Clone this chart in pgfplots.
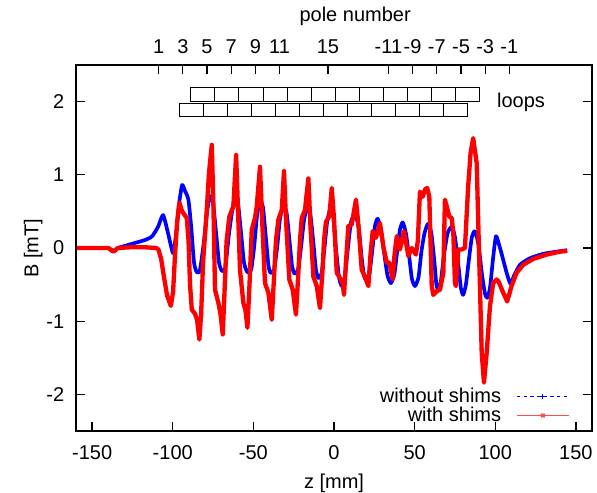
\documentclass[border=0pt]{standalone}
\usepackage{fontspec}
\setmainfont{Liberation Sans}
\usepackage{pgfplots}
\usepackage{pgfplotstable}
\pgfplotsset{compat=1.18}

% field without shims
\pgfplotstableread{
z B
-159.5 0
-145 0
-140 0
-136.8 -0.04
-134 0
-126.4 0.05
-117.1 0.11
-112.8 0.16
-109.1 0.29
-106 0.45
-102.9 0.2
-99.8 -0.07
-97.9 0.2
-96.1 0.6
-94.2 0.86
-92.4 0.78
-90.3 0.66
-88.6 0.3
-86.8 -0.2
-85.1 -0.33
-83.1 -0.3
-80.6 0.1
-78.7 0.5
-76.9 0.71
-75 0.62
-73.1 0.2
-71.3 -0.2
-69.6 -0.31
-67.5 -0.28
-65.1 0.2
-63.2 0.5
-61.4 0.68
-59.5 0.6
-57.6 0.2
-55.8 -0.2
-53.7 -0.33
-51.4 -0.3
-49.6 0.0
-47.7 0.45
-45.9 0.64
-44 0.55
-42.1 0.1
-40.6 -0.25
-39.4 -0.34
-37.2 -0.3
-35.3 0.0
-33.5 0.4
-31.4 0.58
-29.4 0.48
-27.6 0.1
-26 -0.25
-24.5 -0.35
-22.3 -0.3
-20.5 0.0
-18.6 0.38
-16.5 0.55
-14.6 0.45
-12.7 0.05
-11.2 -0.3
-9.7 -0.41
-7.7 -0.35
-5.9 0.0
-4.3 0.35
-2.5 0.52
-0.6 0.45
1.2 0.0
3.1 -0.4
4.8 -0.52
6.5 -0.45
8.4 -0.05
10.5 0.35
13 0.45
15.2 0.3
17 -0.1
18.6 -0.38
20.3 -0.45
22 -0.35
23.9 0.0
25.4 0.3
27.1 0.40
29.1 0.25
31.3 -0.1
33.2 -0.38
35.3 -0.48
37.5 -0.35
39.4 0.0
40.9 0.25
42.6 0.35
44.6 0.2
46.8 -0.15
48.3 -0.42
50.2 -0.52
52.4 -0.4
54.2 -0.05
56.1 0.2
58.3 0.33
60.4 0.2
62.3 -0.2
63.5 -0.5
64.7 -0.57
66.3 -0.45
68.2 -0.1
70.4 0.2
73 0.29
75 0.15
77.2 -0.25
78.7 -0.55
80.1 -0.64
81.8 -0.5
83.7 -0.15
85.5 0.15
87.4 0.23
89.6 0.05
91.7 -0.35
93.6 -0.62
95 -0.68
96.7 -0.55
98.6 -0.15
100.4 0.16
102.3 0.05
104.8 -0.15
107.2 -0.35
109.5 -0.49
111.6 -0.38
115.3 -0.23
121.5 -0.14
129.7 -0.08
138 -0.05
144.6 -0.03
}\noshims

% field with shims
\pgfplotstableread{
z B
-159.5 0
-145 0
-140 0
-136.8 -0.05
-134 0
-126.4 0.01
-117.1 0.01
-110.3 0.0
-108.9 -0.02
-107.2 -0.15
-105.4 -0.4
-103.5 -0.65
-101.2 -0.79
-99.8 -0.6
-98.6 -0.1
-97.3 0.35
-95.9 0.62
-94.2 0.5
-91.3 0.41
-90.2 0.1
-89.3 -0.5
-88.2 -0.84
-86.2 -0.9
-84.9 -0.98
-83.5 -1.25
-82.4 -0.9
-81.2 -0.2
-78.9 0.52
-77.5 1.03
-75.8 1.41
-74.8 0.6
-73.8 -0.57
-71.7 -0.75
-70.4 -0.9
-69 -1.18
-67.9 -0.6
-66.6 0.1
-64.9 0.43
-62.4 0.57
-60.7 1.27
-59.5 0.5
-58.3 -0.3
-56.2 -0.75
-54.9 -0.85
-53.7 -1.09
-52.4 -0.5
-51 0.25
-49 0.41
-47.9 0.57
-45.9 1.11
-44.6 0.4
-42.8 -0.48
-40.7 -0.61
-38.6 -0.98
-37.2 -0.4
-36 0.1
-34.5 0.39
-32.4 0.52
-31 1.05
-29.8 0.4
-27.7 -0.43
-25.6 -0.57
-23.6 -0.91
-22 -0.3
-21.1 0.1
-20 0.41
-18 0.52
-15.9 0.95
-14.6 0.3
-12.8 -0.39
-10.7 -0.52
-8.7 -0.82
-7.1 -0.3
-6.2 0.1
-5 0.36
-2.9 0.43
-1.4 0.82
0 0.4
1.7 -0.34
3.7 -0.41
5.4 -0.48
6.2 -0.64
7.4 -0.2
8.9 0.30
11 0.32
13.6 0.66
15.2 0.3
17.2 -0.30
19.2 -0.39
21.3 -0.52
22.6 -0.1
24 0.23
26 0.14
28.5 0.34
30.6 0.02
32.7 -0.2
34.3 -0.2
36.4 -0.43
37.5 -0.1
38.9 0.16
40.9 -0.02
43.4 0.23
46.1 -0.11
48.2 0.0
50.8 -0.09
52 0.1
53.3 0.77
55 0.70
56.4 0.80
57.8 0.82
59.1 0.7
60.6 -0.52
61.6 -0.64
63.7 -0.59
65.7 -0.57
67.8 -0.34
68.8 0.66
69.9 0.57
71.5 0.43
73 0.41
74 0.2
75 -0.48
75.6 -0.52
77.1 -0.02
79.2 -0.02
81.2 0.0
83.2 0.84
84.7 1.30
86.3 1.50
88.5 1.16
89.4 0.39
90.5 -0.52
91.6 -1.43
93 -1.84
94.7 -1.43
96.7 -0.80
98.7 -0.48
100.8 -0.43
101.9 -0.45
104.9 -0.61
107.4 -0.73
110.1 -0.52
113.2 -0.34
117.3 -0.23
123.5 -0.15
131.8 -0.09
140.1 -0.05
144.6 -0.04
}\withshims

\begin{document}
\begin{tikzpicture}[font=\fontsize{12}{14}\selectfont]
\path[use as bounding box] (-45.6pt,-36.6pt) rectangle (312.6pt,258.6pt);

\begin{axis}[
  width=309.6pt, height=219.6pt, scale only axis,
  xmin=-160, xmax=160, ymin=-2.5, ymax=2.5,
  xtick={-150,-100,...,150},
  xticklabels={-150,-100,-50,0,50,100,150},
  ytick={-2,-1,0,1,2},
  yticklabels={-2,-1,0,1,2},
  xtick pos=bottom, ytick pos=both,
  tick align=inside, major tick length=5.4pt,
  axis line style={line width=0.8pt},
  tick style={line width=0.8pt, black},
  xticklabel style={yshift=-5pt},
  yticklabel style={xshift=-3.5pt},
  xlabel={z [mm]}, ylabel={B [mT]},
  xlabel style={at={(axis description cs:0.5,-0.142)}, anchor=center},
  ylabel style={at={(axis description cs:-0.083,0.5)}, anchor=center},
  legend style={draw=none, fill=none, at={(axis description cs:0.967,0.0)},
    anchor=south east, row sep=-2.5pt},
  legend plot pos=right,
  legend cell align=right,
  legend image code/.code={\path (0pt,0pt);
    \draw[mark repeat=2,mark phase=2,#1]
    plot coordinates {(7pt,0pt) (22.5pt,0pt) (38pt,0pt)};},
]
\addplot[blue, line width=2.2pt, line join=round, smooth, tension=0.35, forget plot] table[x=z,y=B] {\noshims};
\addplot[red, line width=2.6pt, line join=round, forget plot] table[x=z,y=B] {\withshims};

\addlegendimage{blue, line width=0.6pt, dash pattern=on 2pt off 2pt, mark=+, mark size=1.5pt, mark options={solid}}
\addlegendentry{without shims}
\addlegendimage{red!70, line width=1.1pt, mark=x, mark size=1.5pt}
\addlegendentry{with shims}

% loops
\pgfplotsinvokeforeach{0,...,11}{
  \draw[line width=0.6pt, fill=white] (axis cs:{-88.8+14.94*#1},2.0) rectangle (axis cs:{-73.86+14.94*#1},2.19);
  \draw[line width=0.6pt, fill=white] (axis cs:{-96.1+14.9*#1},1.8) rectangle (axis cs:{-81.2+14.9*#1},1.98);
}
\node at (axis cs:116,1.99) {loops};
\end{axis}

\begin{axis}[
  width=309.6pt, height=219.6pt, scale only axis,
  xmin=-160, xmax=160, ymin=0, ymax=1,
  axis x line*=top, axis y line=none,
  tick align=inside, major tick length=5.4pt,
  axis line style={line width=0.8pt},
  tick style={line width=0.8pt, black},
  xtick={-108.75,-93.75,-78.75,-63.75,-48.75,-33.75,-3.75,33.75,48.75,63.75,78.75,93.75,108.75},
  xticklabels={1,3,5,7,9,11,15,-11,-9,-7,-5,-3,-1},
  xticklabel style={yshift=3.5pt},
  xlabel={pole number},
  xlabel style={at={(axis description cs:0.541,1.132)}, anchor=center},
]
\end{axis}
\end{tikzpicture}
\end{document}
